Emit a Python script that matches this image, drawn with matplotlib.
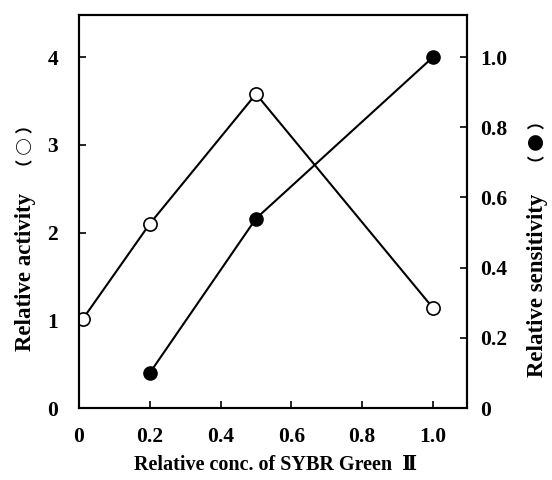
import matplotlib
matplotlib.use("Agg")
import matplotlib.pyplot as plt

# data
act_x = [0.01, 0.2, 0.5, 1.0]
act_y = [1.01, 2.10, 3.58, 1.14]
sens_x = [0.2, 0.5, 1.0]
sens_y = [0.10, 0.54, 1.0]

x_ticks = [0, 0.2, 0.4, 0.6, 0.8, 1.0]
x_ticklabels = ["0", "0.2", "0.4", "0.6", "0.8", "1.0"]
left_ticks = [0, 1, 2, 3, 4]
right_ticks = [0, 0.2, 0.4, 0.6, 0.8, 1.0]
right_ticklabels = ["0", "0.2", "0.4", "0.6", "0.8", "1.0"]

fam = ["Liberation Serif", "DejaVu Serif", "Noto Sans CJK JP"]
plt.rcParams["font.family"] = fam

W, H = 552, 480
fig = plt.figure(figsize=(W / 100, H / 100), dpi=100)
ax = fig.add_axes([79 / W, 72 / H, 388 / W, 393 / H])
ax2 = ax.twinx()

ax.plot(act_x, act_y, color="black", lw=1.5, marker="o", ms=9.5,
        mfc="white", mec="black", mew=1.2, zorder=3)
ax2.plot(sens_x, sens_y, color="black", lw=1.5, marker="o", ms=9.5,
         mfc="black", mec="black", zorder=3)

ax.set_xlim(0, 1.096)
ax.set_ylim(0, 4.48)
ax2.set_ylim(0, 1.12)

ax.set_xticks(x_ticks)
ax.set_xticklabels(x_ticklabels)
ax.set_yticks(left_ticks)
ax2.set_yticks(right_ticks)
ax2.set_yticklabels(right_ticklabels)

for a in (ax, ax2):
    a.tick_params(direction="in", length=5, width=1.2, labelsize=15.5)
    for s in a.spines.values():
        s.set_linewidth(1.5)
ax.tick_params(axis="x", pad=13.5)
ax.tick_params(axis="y", pad=15)
ax2.tick_params(axis="y", pad=9.5)
for lab in ax.get_xticklabels() + ax.get_yticklabels() + ax2.get_yticklabels():
    lab.set_fontweight("bold")

ax.set_xlabel("Relative conc. of SYBR Green  Ⅱ", fontsize=14.5,
              fontweight="bold", va="center")
ax.xaxis.set_label_coords((275 - 79) / 388, (408 - 465) / 393)

# axis titles, with the circle keys set apart as in the original
ax.set_ylabel("Relative activity", fontsize=16.5, fontweight="bold",
              va="center", ha="center")
ax.yaxis.set_label_coords((26 - 79) / 388, (408 - 272) / 393)
fig.text(26 / W, 1 - 146 / H, "（ ○ ）", rotation=90, ha="center", va="center",
         fontsize=12.5, fontweight="bold", family="Noto Sans CJK JP")

ax2.set_ylabel("Relative sensitivity", fontsize=16.5, fontweight="bold",
               va="center", ha="center")
ax2.yaxis.set_label_coords((538 - 79) / 388, (408 - 285) / 393)
fig.text(538 / W, 1 - 142 / H, "（ ● ）", rotation=90, ha="center", va="center",
         fontsize=12.5, fontweight="bold", family="Noto Sans CJK JP")

fig.savefig("out.png", dpi=100)
